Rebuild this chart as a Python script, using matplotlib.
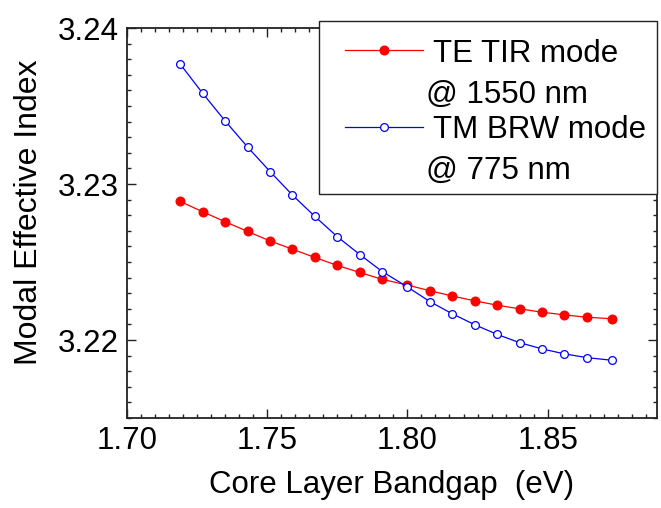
import matplotlib
matplotlib.use("Agg")
import matplotlib.pyplot as plt
from matplotlib.lines import Line2D
from matplotlib.patches import Rectangle
from matplotlib.ticker import MultipleLocator, FormatStrFormatter

plt.rcParams['font.family'] = ['Liberation Sans', 'DejaVu Sans']

bandgap = [1.719, 1.727, 1.735, 1.743, 1.751, 1.759, 1.767, 1.775, 1.783, 1.791,
           1.800, 1.808, 1.816, 1.824, 1.832, 1.840, 1.848, 1.856, 1.864, 1.873]
te_tir = [3.22888, 3.22822, 3.22758, 3.22696, 3.22635, 3.22582, 3.22529, 3.22478,
          3.22433, 3.22389, 3.22352, 3.22316, 3.22282, 3.22251, 3.22223, 3.22200,
          3.22178, 3.22161, 3.22146, 3.22136]
tm_brw = [3.23768, 3.23581, 3.23404, 3.23237, 3.23080, 3.22929, 3.22792, 3.22662,
          3.22548, 3.22439, 3.22340, 3.22246, 3.22168, 3.22098, 3.22036, 3.21983,
          3.21943, 3.21911, 3.21887, 3.21870]
series_labels = [("TE TIR mode", "@ 1550 nm"), ("TM BRW mode", "@ 775 nm")]
x_ticks = [1.70, 1.75, 1.80, 1.85]
y_ticks = [3.22, 3.23, 3.24]

FS = 22.5
W, H = 661, 508
fig = plt.figure(figsize=(W / 100, H / 100), dpi=100)
ax = fig.add_axes([127 / W, 1 - 418 / H, (657 - 127) / W, (418 - 28) / H])

ax.plot(bandgap, te_tir, color='#ff0000', lw=0.9, marker='o', ms=6.2,
        mfc='#ff0000', mec='#ff0000')
ax.plot(bandgap, tm_brw, color='#0000ff', lw=0.9, marker='o', ms=5.6,
        mfc='white', mec='#0000ff', mew=0.9)

ax.set_xlim(1.70, 1.889)
ax.set_ylim(3.215, 3.24)
ax.set_xticks(x_ticks)
ax.set_yticks(y_ticks)
ax.xaxis.set_major_formatter(FormatStrFormatter('%.2f'))
ax.yaxis.set_major_formatter(FormatStrFormatter('%.2f'))
ax.xaxis.set_minor_locator(MultipleLocator(0.005))
ax.yaxis.set_minor_locator(MultipleLocator(0.001))
ax.tick_params(which='both', direction='in', top=True, right=True,
               labelsize=FS, width=1.0, color='#222222')
ax.tick_params(which='major', length=6.5)
ax.tick_params(which='minor', length=3.2)
ax.tick_params(axis='x', which='major', pad=6)
ax.tick_params(axis='y', which='major', pad=6)
for s in ax.spines.values():
    s.set_linewidth(1.3)
    s.set_color('#222222')

ax.set_xlabel("Core Layer Bandgap  (eV)", fontsize=FS, labelpad=10)
ax.set_ylabel("Modal Effective Index", fontsize=23)
ax.yaxis.set_label_coords(-0.157, 0.528)

# legend drawn in figure pixel coordinates
def fx(px):
    return px / W

def fy(py):
    return 1 - py / H

fig.patches.append(Rectangle((fx(319), fy(194)), fx(657) - fx(319), fy(21) - fy(194),
                             transform=fig.transFigure, facecolor='white',
                             edgecolor='#222222', lw=1.0, zorder=5))
styles = [dict(color='#ff0000', mfc='#ff0000', mec='#ff0000', ms=6.2),
          dict(color='#0000ff', mfc='white', mec='#0000ff', ms=5.6, mew=0.9)]
rows = [(50, 91), (127, 167)]
for (l1, l2), st, (y1, y2) in zip(series_labels, styles, rows):
    fig.lines.append(Line2D([fx(345), fx(423)], [fy(y1), fy(y1)], transform=fig.transFigure,
                            lw=0.9, zorder=6, color=st['color']))
    fig.lines.append(Line2D([fx(384)], [fy(y1)], transform=fig.transFigure, marker='o',
                            ls='none', zorder=7,
                            **{k: v for k, v in st.items() if k != 'color'}))
    fig.text(fx(433), fy(y1), l1, fontsize=FS, va='center_baseline', ha='left', zorder=8)
    fig.text(fx(426), fy(y2), l2, fontsize=FS, va='center_baseline', ha='left', zorder=8)

fig.savefig("out.png", dpi=100)
